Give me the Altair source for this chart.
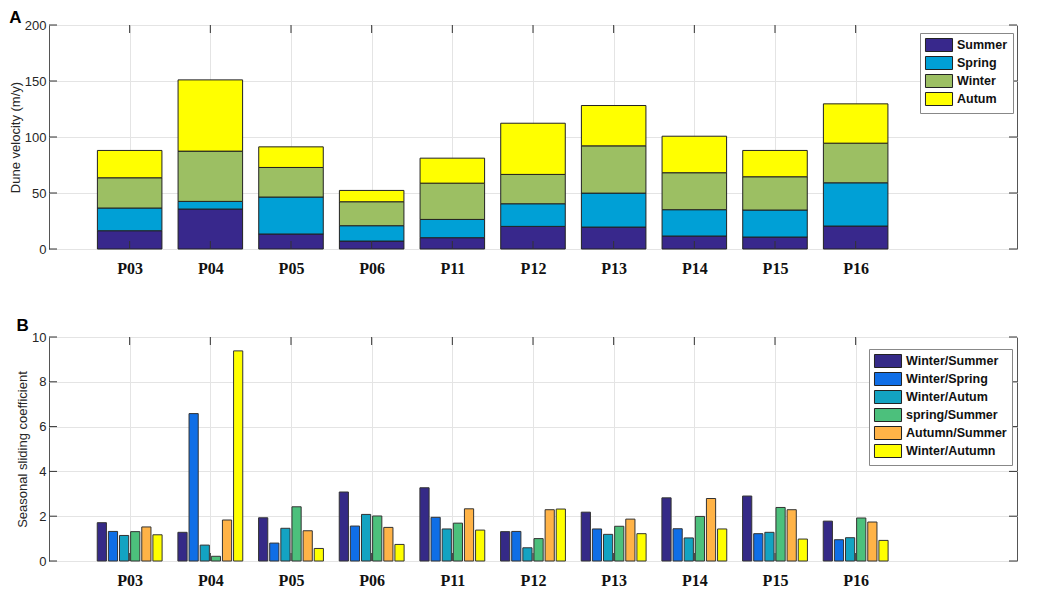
import json
import altair as alt
import pandas as pd

# ---------------- data ----------------
sites = ["P03", "P04", "P05", "P06", "P11", "P12", "P13", "P14", "P15", "P16"]

seasons = ["Summer", "Spring", "Winter", "Autum"]
season_colors = ["#38288c", "#00a0d6", "#9cbf63", "#ffff00"]
summer = [16.3, 35.7, 13.4, 7.1, 10.1, 20.2, 19.6, 11.6, 10.7, 20.5]
spring = [20.3, 6.8, 33.0, 13.7, 16.3, 20.2, 30.3, 23.5, 24.1, 38.6]
winter = [27.0, 44.9, 26.4, 21.4, 32.4, 26.2, 42.2, 33.0, 29.7, 35.4]
autum = [24.4, 63.6, 18.4, 10.1, 22.3, 45.7, 36.0, 32.6, 23.5, 35.1]

ratio_names = ["Winter/Summer", "Winter/Spring", "Winter/Autum",
               "spring/Summer", "Autumn/Summer", "Winter/Autumn"]
ratio_colors = ["#352a87", "#0f6ee6", "#13a3c2", "#4cc07c", "#ffb347", "#ffff00"]
winter_summer = [1.71, 1.28, 1.93, 3.08, 3.27, 1.31, 2.18, 2.82, 2.90, 1.78]
winter_spring = [1.32, 6.58, 0.80, 1.56, 1.95, 1.32, 1.43, 1.44, 1.22, 0.95]
winter_autum = [1.14, 0.71, 1.46, 2.08, 1.43, 0.59, 1.19, 1.03, 1.28, 1.04]
spring_summer = [1.31, 0.21, 2.42, 2.01, 1.69, 1.00, 1.55, 1.99, 2.39, 1.92]
autumn_summer = [1.52, 1.83, 1.35, 1.50, 2.33, 2.29, 1.87, 2.79, 2.29, 1.74]
winter_autumn = [1.17, 9.38, 0.56, 0.74, 1.38, 2.32, 1.22, 1.43, 0.98, 0.92]

yticksA = [0, 50, 100, 150, 200]
yticksB = [0, 2, 4, 6, 8, 10]

# ---------------- tables ----------------
season_vals = [summer, spring, winter, autum]
rowsA = []
for k, (name, vals) in enumerate(zip(seasons, season_vals)):
    for i, v in enumerate(vals):
        rowsA.append({"site": sites[i], "pos": i + 1, "season": name, "order": k, "value": v})
dfA = pd.DataFrame(rowsA)

ratio_vals = [winter_summer, winter_spring, winter_autum,
              spring_summer, autumn_summer, winter_autumn]
rowsB = []
for k, (name, vals) in enumerate(zip(ratio_names, ratio_vals)):
    for i, v in enumerate(vals):
        rowsB.append({"site": sites[i], "pos": i + 1, "ratio": name, "k": k, "value": v})
dfB = pd.DataFrame(rowsB)

dfPos = pd.DataFrame({"pos": list(range(1, len(sites) + 1))})
dfYA = pd.DataFrame({"v": yticksA})
dfYB = pd.DataFrame({"v": yticksB})

# ---------------- style ----------------
W, H = 968, 224
TICK = 8
GRID = "#e4e4e4"
xscale = alt.Scale(domain=[0, 12], nice=False, zero=False)
label_expr = json.dumps(sites) + "[datum.value - 1]"


def xaxis():
    return alt.Axis(values=list(range(1, 11)), labelExpr=label_expr, title=None,
                    grid=True, gridColor=GRID, tickSize=0, domain=False,
                    labelFont="Liberation Serif", labelFontWeight="bold",
                    labelFontSize=16, labelColor="#111", labelPadding=11,
                    labelAngle=0, labelBaseline="top")


def yaxis(title, vals):
    return alt.Axis(values=vals, title=title, grid=True, gridColor=GRID,
                    tickSize=0, domain=False, labelFont="Liberation Sans",
                    labelFontSize=13, labelColor="#262626", labelPadding=3,
                    titleFont="Liberation Sans", titleFontSize=13,
                    titleFontWeight="normal", titleColor="#262626", titlePadding=2)


def legend(lx, ly):
    return alt.Legend(title=None, orient="none", legendX=lx, legendY=ly,
                      symbolType="M-2.08,-1H2.08V1H-2.08Z", symbolSize=169,
                      symbolOffset=7,
                      symbolStrokeColor="#222", symbolStrokeWidth=1,
                      labelFont="Liberation Sans", labelFontWeight="bold",
                      labelFontSize=12.5, labelColor="#111", labelOffset=11,
                      strokeColor="#888", fillColor="white", padding=5,
                      rowPadding=0)


def tick_layers(yscale, yax, dfY):
    top = alt.Chart(dfPos).mark_rule(color="#333").encode(
        x=alt.X("pos:Q", scale=xscale, axis=xaxis()),
        y=alt.value(0), y2=alt.value(TICK))
    bot = alt.Chart(dfPos).mark_rule(color="#333").encode(
        x=alt.X("pos:Q", scale=xscale, axis=xaxis()),
        y=alt.value(H), y2=alt.value(H - TICK))
    left = alt.Chart(dfY).mark_rule(color="#333").encode(
        y=alt.Y("v:Q", scale=yscale, axis=yax),
        x=alt.value(0), x2=alt.value(TICK))
    right = alt.Chart(dfY).mark_rule(color="#333").encode(
        y=alt.Y("v:Q", scale=yscale, axis=yax),
        x=alt.value(W - TICK), x2=alt.value(W))
    return [top, bot, left, right]


def title(t, off):
    return alt.TitleParams(t, anchor="start", frame="bounds", fontSize=17,
                           font="Liberation Sans", fontWeight="bold",
                           color="black", offset=off)


# ---------------- panel A ----------------
yscaleA = alt.Scale(domain=[0, 200], nice=False)
yaxA = yaxis("Dune velocity (m/y)", yticksA)
barsA = alt.Chart(dfA).transform_stack(
    stack="value", groupby=["pos"], as_=["y0", "y1"],
    sort=[alt.SortField("order", order="ascending")]
).transform_calculate(
    xl="datum.pos - 0.4", xr="datum.pos + 0.4"
).mark_bar(stroke="#222", strokeWidth=1).encode(
    x=alt.X("xl:Q", scale=xscale, axis=xaxis()),
    x2="xr:Q",
    y=alt.Y("y0:Q", scale=yscaleA, axis=yaxA),
    y2="y1:Q",
    color=alt.Color("season:N", scale=alt.Scale(domain=seasons, range=season_colors),
                    legend=legend(871, 8)),
)
chartA = alt.layer(barsA, *tick_layers(yscaleA, yaxA, dfYA)).properties(
    width=W, height=H, title=title("A", -8))

# ---------------- panel B ----------------
yscaleB = alt.Scale(domain=[0, 10], nice=False)
yaxB = yaxis("Seasonal sliding coefficient", yticksB)
barsB = alt.Chart(dfB).transform_calculate(
    xc="datum.pos + (datum.k - 2.5) * 0.138"
).transform_calculate(
    xl="datum.xc - 0.057", xr="datum.xc + 0.057"
).mark_bar(stroke="#333", strokeWidth=1).encode(
    x=alt.X("xl:Q", scale=xscale, axis=xaxis()),
    x2="xr:Q",
    y=alt.Y("value:Q", scale=yscaleB, axis=yaxB),
    y2=alt.datum(0),
    color=alt.Color("ratio:N", scale=alt.Scale(domain=ratio_names, range=ratio_colors),
                    legend=legend(820, 12)),
)
chartB = alt.layer(barsB, *tick_layers(yscaleB, yaxB, dfYB)).properties(
    width=W, height=H, title=title("B", -4))

chart = alt.vconcat(chartA, chartB, spacing=39).resolve_scale(
    x="independent", y="independent", color="independent"
).properties(padding=0).configure_view(stroke="#555", strokeWidth=1)

chart.save("out.html", embed_options={"renderer": "svg", "actions": False})
